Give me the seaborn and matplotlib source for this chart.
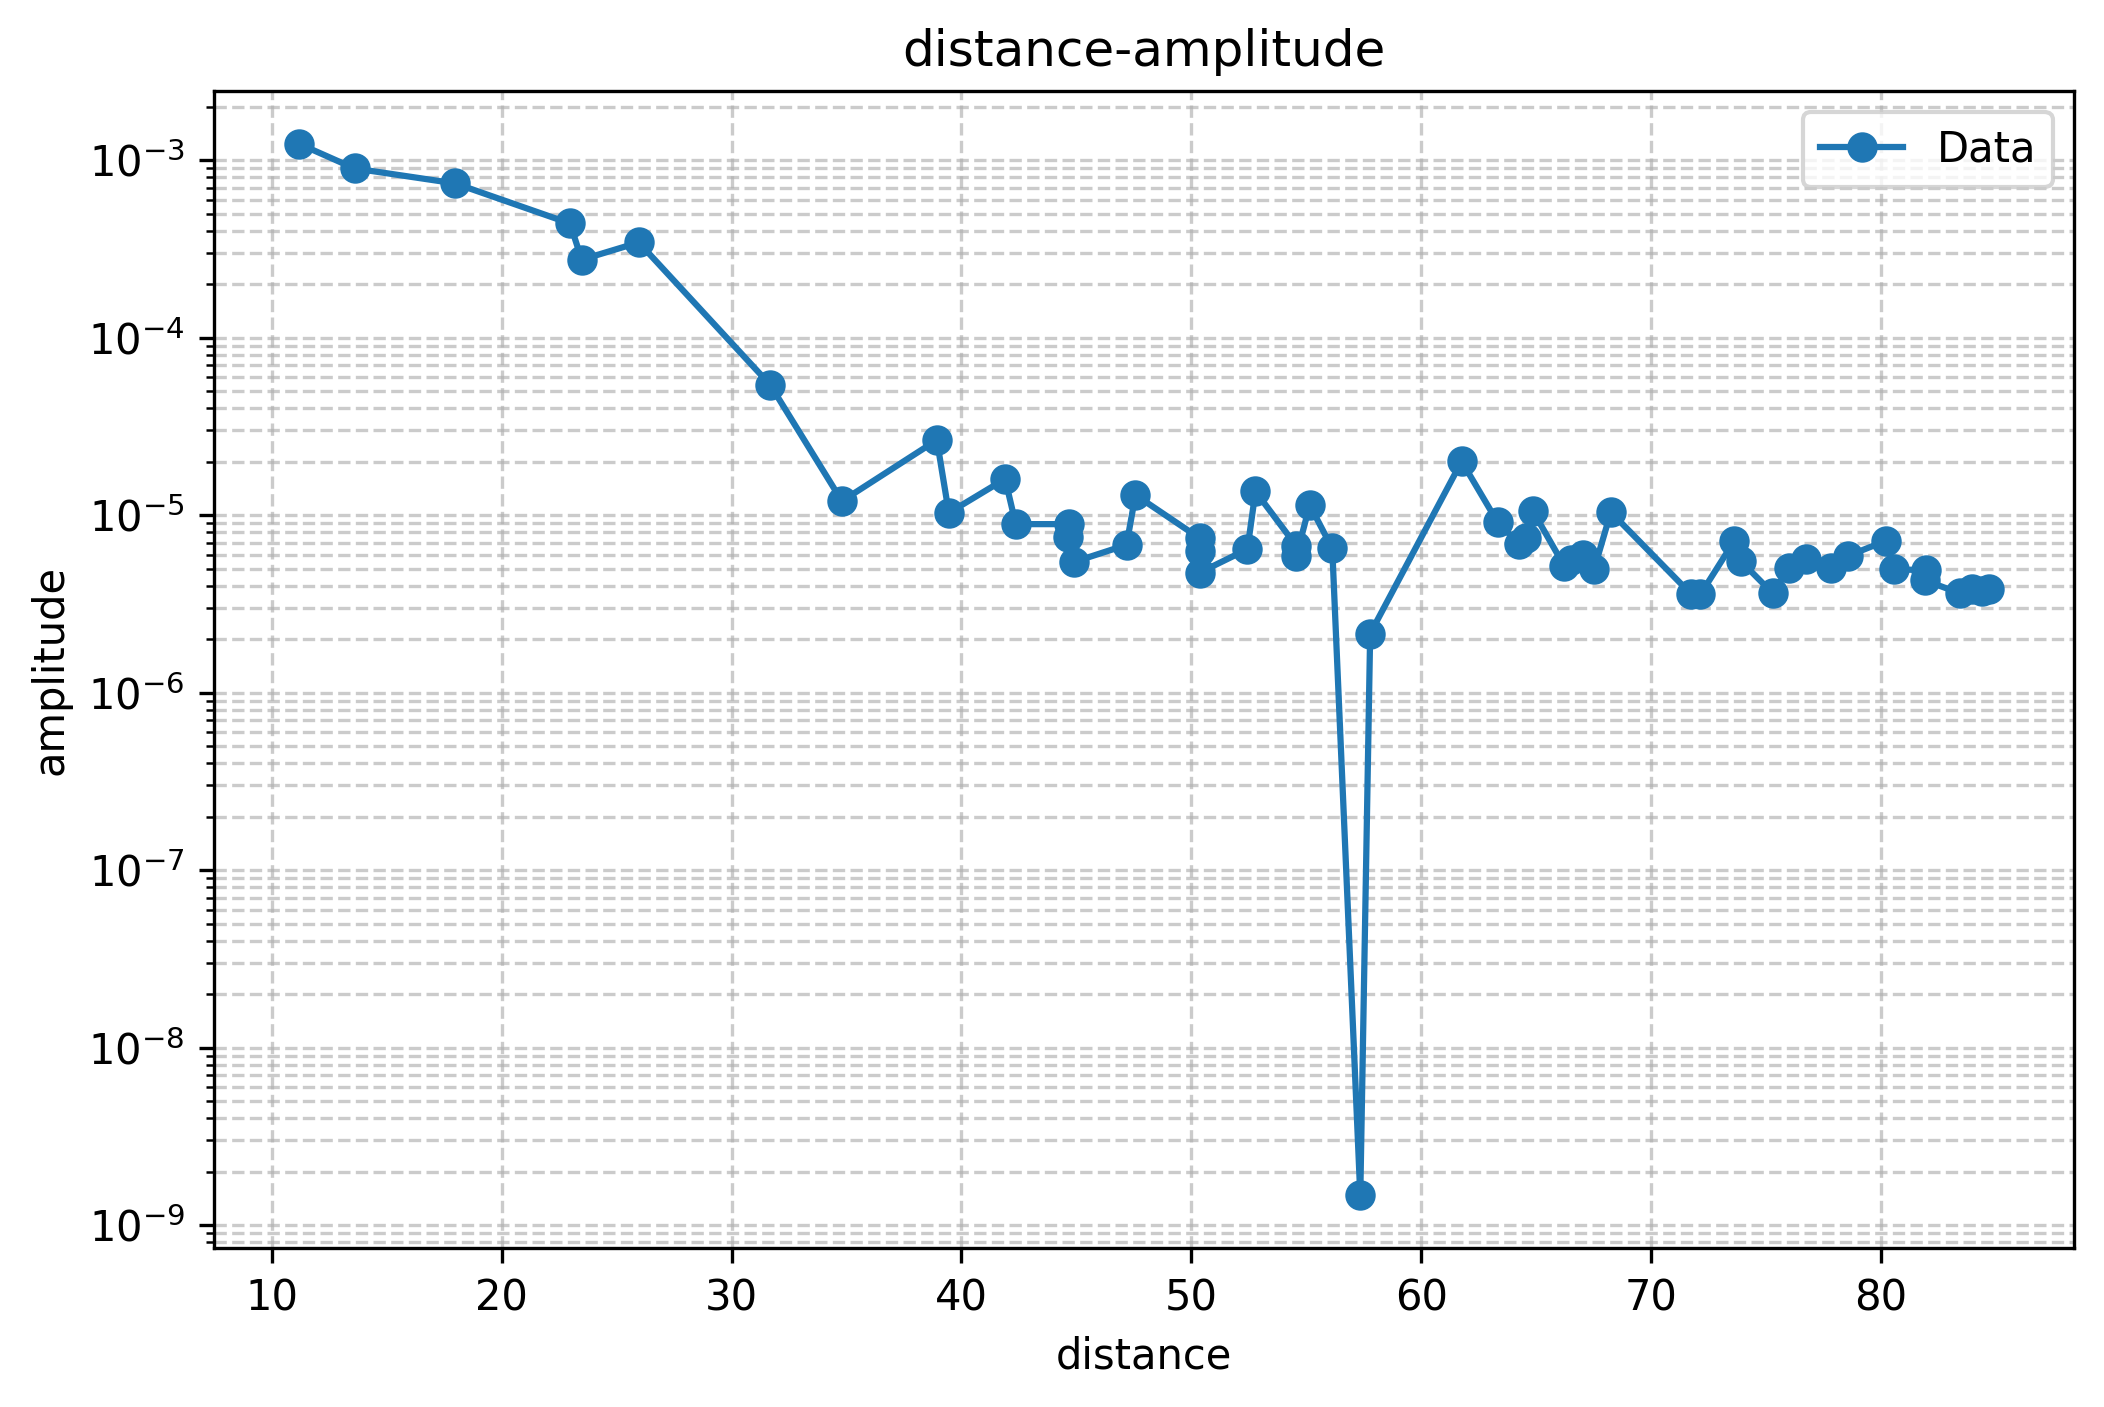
import numpy as np
import pandas as pd
import matplotlib
matplotlib.use("Agg")
import matplotlib.pyplot as plt
import seaborn as sns

distance = [11.16, 13.60, 17.97, 22.97, 23.48, 25.96, 31.68, 34.80, 38.93, 39.45,
            41.90, 42.36, 44.69, 44.65, 44.90, 47.18, 47.57, 50.37, 50.39, 50.37,
            52.44, 52.79, 54.57, 54.57, 55.15, 56.13, 57.35, 57.78, 61.76, 63.33,
            64.27, 64.55, 64.85, 66.22, 66.50, 67.02, 67.53, 68.25, 71.75, 72.15,
            73.62, 73.90, 75.30, 76.00, 76.72, 77.84, 78.56, 80.20, 80.56, 81.98,
            81.90, 83.45, 83.96, 84.39, 84.70]
amplitude = [1.24e-3, 8.98e-4, 7.4e-4, 4.4e-4, 2.75e-4, 3.44e-4, 5.42e-5, 1.2e-5, 2.65e-5, 1.03e-5,
             1.6e-5, 8.9e-6, 8.9e-6, 7.5e-6, 5.45e-6, 6.8e-6, 1.30e-5, 7.4e-6, 6.3e-6, 4.75e-6,
             6.43e-6, 1.36e-5, 6.7e-6, 5.9e-6, 1.14e-5, 6.5e-6, 1.47e-9, 2.15e-6, 2.01e-5, 9.1e-6,
             6.86e-6, 7.4e-6, 1.06e-5, 5.18e-6, 5.6e-6, 6.0e-6, 5.0e-6, 1.04e-5, 3.58e-6, 3.58e-6,
             7.16e-6, 5.52e-6, 3.62e-6, 5.07e-6, 5.65e-6, 5.07e-6, 5.89e-6, 7.16e-6, 4.95e-6, 4.9e-6,
             4.3e-6, 3.62e-6, 3.82e-6, 3.75e-6, 3.85e-6]

df = pd.DataFrame({"distance": distance, "amplitude": amplitude})

fig = plt.figure(figsize=(2104 / 300, 1407 / 300), dpi=300)
ax = fig.add_axes([214 / 2104, 1 - 1248 / 1407, (2073.5 - 214) / 2104, (1248 - 91) / 1407])

sns.lineplot(data=df, x="distance", y="amplitude", ax=ax, estimator=None, sort=False,
             marker="o", color="#1f77b4", linewidth=1.5, markersize=6.3,
             markeredgecolor="#1f77b4", markeredgewidth=1.0, label="Data")
ax.set_yscale("log")
ax.grid(True, which="both", linestyle="--", alpha=0.65)
ax.set_title("distance-amplitude")
ax.set_xlabel("distance")
ax.set_ylabel("amplitude")
ax.legend(loc="upper right")

fig.savefig("out.png", dpi=300)
